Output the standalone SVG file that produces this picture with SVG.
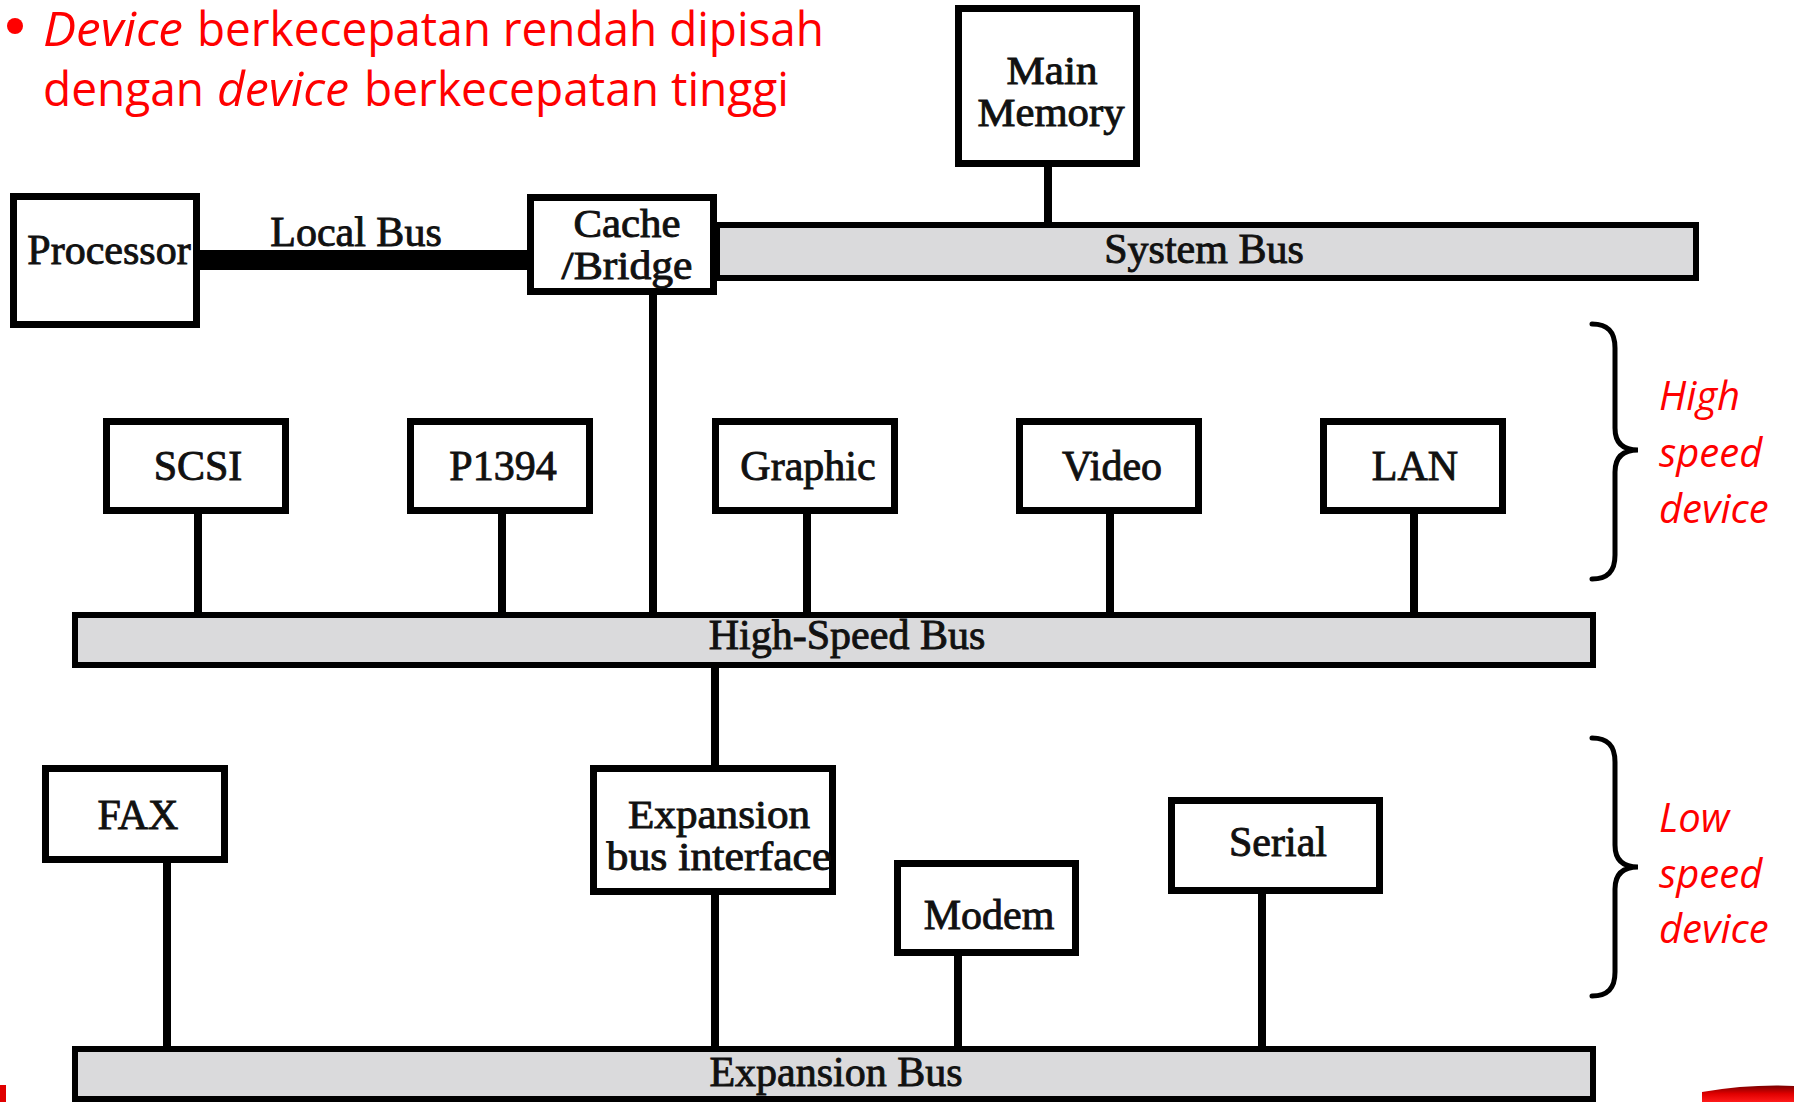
<svg xmlns="http://www.w3.org/2000/svg" width="1794" height="1102" viewBox="0 0 1794 1102">
  <style>
    .box { fill: #ffffff; stroke: #000000; stroke-width: 7; }
    .bus { fill: #dadadc; stroke: #000000; stroke-width: 6; }
    .wire { stroke: #000000; stroke-width: 8; fill: none; }
    .lbl { font-family: "Liberation Serif", "Times New Roman", serif; font-size: 42px; fill: #111111; stroke: #111111; stroke-width: 0.9; text-anchor: middle; }
    .lbl2 { font-size: 39px; }
    .note { font-family: "Open Sans", "Noto Sans", sans-serif; font-size: 48px; fill: #ff0000; }
    .side { font-family: "Open Sans", "Noto Sans", sans-serif; font-size: 40px; font-style: italic; fill: #ff0000; }
    .brace { fill: none; stroke: #000000; stroke-width: 5; stroke-linecap: round; }
  </style>
  <defs>
    <linearGradient id="edgeRed" x1="0" y1="0" x2="0" y2="1">
      <stop offset="0" stop-color="#7a0000"/>
      <stop offset="0.5" stop-color="#e00000"/>
      <stop offset="1" stop-color="#ff1a1a"/>
    </linearGradient>
  </defs>

  <rect width="1794" height="1102" fill="#ffffff"/>

  <!-- heading bullet -->
  <g id="heading">
    <circle cx="15" cy="26" r="8" fill="#ff0000"/>
    <text class="note" x="43" y="46" font-style="italic" textLength="140" lengthAdjust="spacingAndGlyphs">Device</text>
    <text class="note" x="197" y="46" textLength="627" lengthAdjust="spacingAndGlyphs">berkecepatan rendah dipisah</text>
    <text class="note" x="43" y="106" textLength="161" lengthAdjust="spacingAndGlyphs">dengan</text>
    <text class="note" x="217" y="106" font-style="italic" textLength="132" lengthAdjust="spacingAndGlyphs">device</text>
    <text class="note" x="364" y="106" textLength="425" lengthAdjust="spacingAndGlyphs">berkecepatan tinggi</text>
  </g>

  <!-- connectors -->
  <g id="connectors">
    <line class="wire" x1="1048" y1="167" x2="1048" y2="225"/>
    <rect x="200" y="250" width="330" height="20" fill="#000000"/>
    <line class="wire" x1="653" y1="295" x2="653" y2="615"/>
    <line class="wire" x1="198" y1="514" x2="198" y2="615"/>
    <line class="wire" x1="502" y1="514" x2="502" y2="615"/>
    <line class="wire" x1="807" y1="514" x2="807" y2="615"/>
    <line class="wire" x1="1110" y1="514" x2="1110" y2="615"/>
    <line class="wire" x1="1414" y1="514" x2="1414" y2="615"/>
    <line class="wire" x1="715" y1="665" x2="715" y2="768"/>
    <line class="wire" x1="715" y1="892" x2="715" y2="1049"/>
    <line class="wire" x1="167" y1="860" x2="167" y2="1049"/>
    <line class="wire" x1="958" y1="953" x2="958" y2="1049"/>
    <line class="wire" x1="1262" y1="891" x2="1262" y2="1049"/>
  </g>

  <!-- buses -->
  <g id="system-bus">
    <rect class="bus" x="717" y="225" width="979" height="53"/>
    <text class="lbl" x="1204" y="263">System Bus</text>
  </g>
  <g id="high-speed-bus">
    <rect class="bus" x="75" y="615" width="1518" height="50"/>
    <text class="lbl" x="847" y="649">High-Speed Bus</text>
  </g>
  <g id="expansion-bus">
    <rect class="bus" x="75" y="1049" width="1518" height="50"/>
    <text class="lbl" x="836" y="1086">Expansion Bus</text>
  </g>

  <!-- top row -->
  <g id="main-memory">
    <rect class="box" x="958.5" y="8.5" width="178" height="155"/>
    <text class="lbl lbl2" x="1052" y="84" textLength="91" lengthAdjust="spacingAndGlyphs">Main</text>
    <text class="lbl lbl2" x="1051" y="126" textLength="147" lengthAdjust="spacingAndGlyphs">Memory</text>
  </g>
  <g id="processor">
    <rect class="box" x="13.5" y="196.5" width="183" height="128"/>
    <text class="lbl" x="109" y="264">Processor</text>
  </g>
  <text class="lbl" x="356" y="246">Local Bus</text>
  <g id="cache-bridge">
    <rect class="box" x="530.5" y="197.5" width="183" height="94"/>
    <text class="lbl lbl2" x="627" y="237" textLength="107" lengthAdjust="spacingAndGlyphs">Cache</text>
    <text class="lbl lbl2" x="627" y="279" textLength="131" lengthAdjust="spacingAndGlyphs">/Bridge</text>
  </g>

  <!-- high speed devices -->
  <g id="scsi">
    <rect class="box" x="106.5" y="421.5" width="179" height="89"/>
    <text class="lbl" x="198" y="480">SCSI</text>
  </g>
  <g id="p1394">
    <rect class="box" x="410.5" y="421.5" width="179" height="89"/>
    <text class="lbl" x="503" y="480">P1394</text>
  </g>
  <g id="graphic">
    <rect class="box" x="715.5" y="421.5" width="179" height="89"/>
    <text class="lbl" x="808" y="480">Graphic</text>
  </g>
  <g id="video">
    <rect class="box" x="1019.5" y="421.5" width="179" height="89"/>
    <text class="lbl" x="1112" y="480">Video</text>
  </g>
  <g id="lan">
    <rect class="box" x="1323.5" y="421.5" width="179" height="89"/>
    <text class="lbl" x="1415" y="480">LAN</text>
  </g>

  <!-- low speed devices -->
  <g id="fax">
    <rect class="box" x="45.5" y="768.5" width="179" height="91"/>
    <text class="lbl" x="138" y="829">FAX</text>
  </g>
  <g id="expansion-interface">
    <rect class="box" x="593.5" y="768.5" width="239" height="123"/>
    <text class="lbl lbl2" x="719" y="828" textLength="182" lengthAdjust="spacingAndGlyphs">Expansion</text>
    <text class="lbl lbl2" x="719" y="870" textLength="225" lengthAdjust="spacingAndGlyphs">bus interface</text>
  </g>
  <g id="modem">
    <rect class="box" x="897.5" y="863.5" width="178" height="89"/>
    <text class="lbl" x="989" y="929">Modem</text>
  </g>
  <g id="serial">
    <rect class="box" x="1171.5" y="800.5" width="208" height="90"/>
    <text class="lbl" x="1278" y="856">Serial</text>
  </g>

  <!-- group braces -->
  <g id="high-speed-group">
    <path class="brace" d="M1592,324 C1608,324 1615,332 1615,348 L1615,428 C1615,442 1622,450 1638,450 C1622,450 1615,458 1615,472 L1615,555 C1615,571 1608,579 1592,579"/>
    <text class="side" x="1659" y="410">High</text>
    <text class="side" x="1659" y="467">speed</text>
    <text class="side" x="1659" y="523">device</text>
  </g>
  <g id="low-speed-group">
    <path class="brace" d="M1592,738 C1608,738 1615,746 1615,762 L1615,845 C1615,859 1622,867 1638,867 C1622,867 1615,875 1615,889 L1615,972 C1615,988 1608,996 1592,996"/>
    <text class="side" x="1659" y="832">Low</text>
    <text class="side" x="1659" y="888">speed</text>
    <text class="side" x="1659" y="943">device</text>
  </g>

  <!-- slide edge decorations -->
  <rect x="0" y="1085" width="6" height="17" fill="#e00000"/>
  <path d="M1702,1092 Q1750,1084 1794,1086 L1794,1102 L1702,1102 Z" fill="url(#edgeRed)"/>
</svg>
